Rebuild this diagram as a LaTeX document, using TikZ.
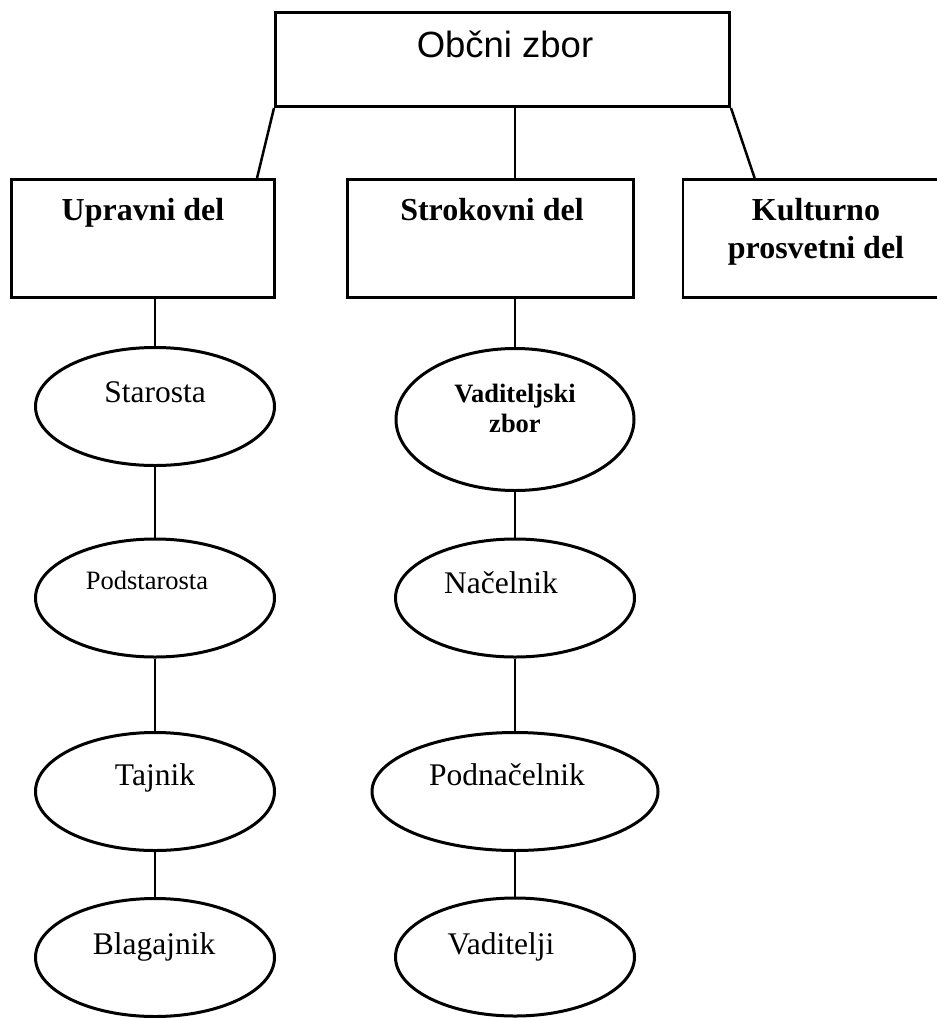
\documentclass[tikz,border=0pt]{standalone}
\usepackage{fontspec}
\setmainfont{Liberation Serif}
\newfontfamily\sansf{Liberation Sans}
\usetikzlibrary{shapes.geometric}
\begin{document}
\begin{tikzpicture}[x=1pt,y=-1pt,
  box/.style={draw, rectangle, line width=2.8pt, inner sep=0pt},
  oval/.style={draw, ellipse, line width=3pt, inner sep=0pt, minimum width=239pt, minimum height=118pt},
  conn/.style={line width=2.5pt},
  lbl/.style={anchor=base, inner sep=0pt, font=\fontsize{31.5}{36}\selectfont},
  blbl/.style={anchor=base, inner sep=0pt, font=\fontsize{32}{38}\selectfont\bfseries},
  vlbl/.style={anchor=base, inner sep=0pt, font=\fontsize{26.5}{30}\selectfont\bfseries}]
\clip (0,0) rectangle (937,1018);
\fill[white] (0,0) rectangle (937,1018);
% boxes
\node[box, line width=3pt, minimum width=454pt, minimum height=94pt] (top) at (502.5,59.5) {};
\node[box, minimum width=263.3pt, minimum height=118.3pt] (upr) at (143,238.5) {};
\node[box, minimum width=286.3pt, minimum height=118.3pt] (strok) at (490.5,238.5) {};
\node[box, minimum width=266pt, minimum height=118.3pt] (kult) at (816,238.5) {};
% ellipses
\node[oval] (star) at (155,406.5) {};
\node[oval] (podst) at (155,598) {};
\node[oval] (taj) at (155,791.5) {};
\node[oval] (blag) at (155,957.5) {};
\node[oval, minimum width=238pt, minimum height=142pt] (vad) at (515,419.5) {};
\node[oval] (nac) at (515,598) {};
\node[oval, minimum width=286pt] (podn) at (515,791.5) {};
\node[oval] (vadi) at (515,957) {};
% texts
\node[anchor=base, inner sep=0pt, font=\sansf\fontsize{36.5}{40}\selectfont] (topt) at (505,57) {Občni zbor};
\node[blbl] (uprt) at (143,220) {Upravni del};
\node[blbl] (strokt) at (492,220) {Strokovni del};
\node[blbl] (kultt1) at (816,220) {Kulturno};
\node[blbl] (kultt2) at (816,258) {prosvetni del};
\node[lbl] (start) at (155,402) {Starosta};
\node[lbl, font=\fontsize{26.5}{30}\selectfont] (podstt) at (147,589) {Podstarosta};
\node[lbl] (tajt) at (155,785) {Tajnik};
\node[lbl] (blagt) at (154,954) {Blagajnik};
\node[vlbl] (vadt1) at (515,402) {Vaditeljski};
\node[vlbl] (vadt2) at (515,432) {zbor};
\node[lbl] (nact) at (501,593) {Načelnik};
\node[lbl] (podnt) at (507,785) {Podnačelnik};
\node[lbl] (vadit) at (501,954) {Vaditelji};
% connectors
\draw[conn] (top.south west) -- ([xshift=-19pt]upr.north east);
\draw[conn] (top.south -| vad.north) -- (strok.north -| vad.north);
\draw[conn] (top.south east) -- ([xshift=73pt]kult.north west);
\draw[conn] (upr.south -| star.north) -- (star.north);
\draw[conn] (star.south) -- (podst.north);
\draw[conn] (podst.south) -- (taj.north);
\draw[conn] (taj.south) -- (blag.north);
\draw[conn] (strok.south -| vad.north) -- (vad.north);
\draw[conn] (vad.south) -- (nac.north);
\draw[conn] (nac.south) -- (podn.north);
\draw[conn] (podn.south) -- (vadi.north);
\end{tikzpicture}
\end{document}
